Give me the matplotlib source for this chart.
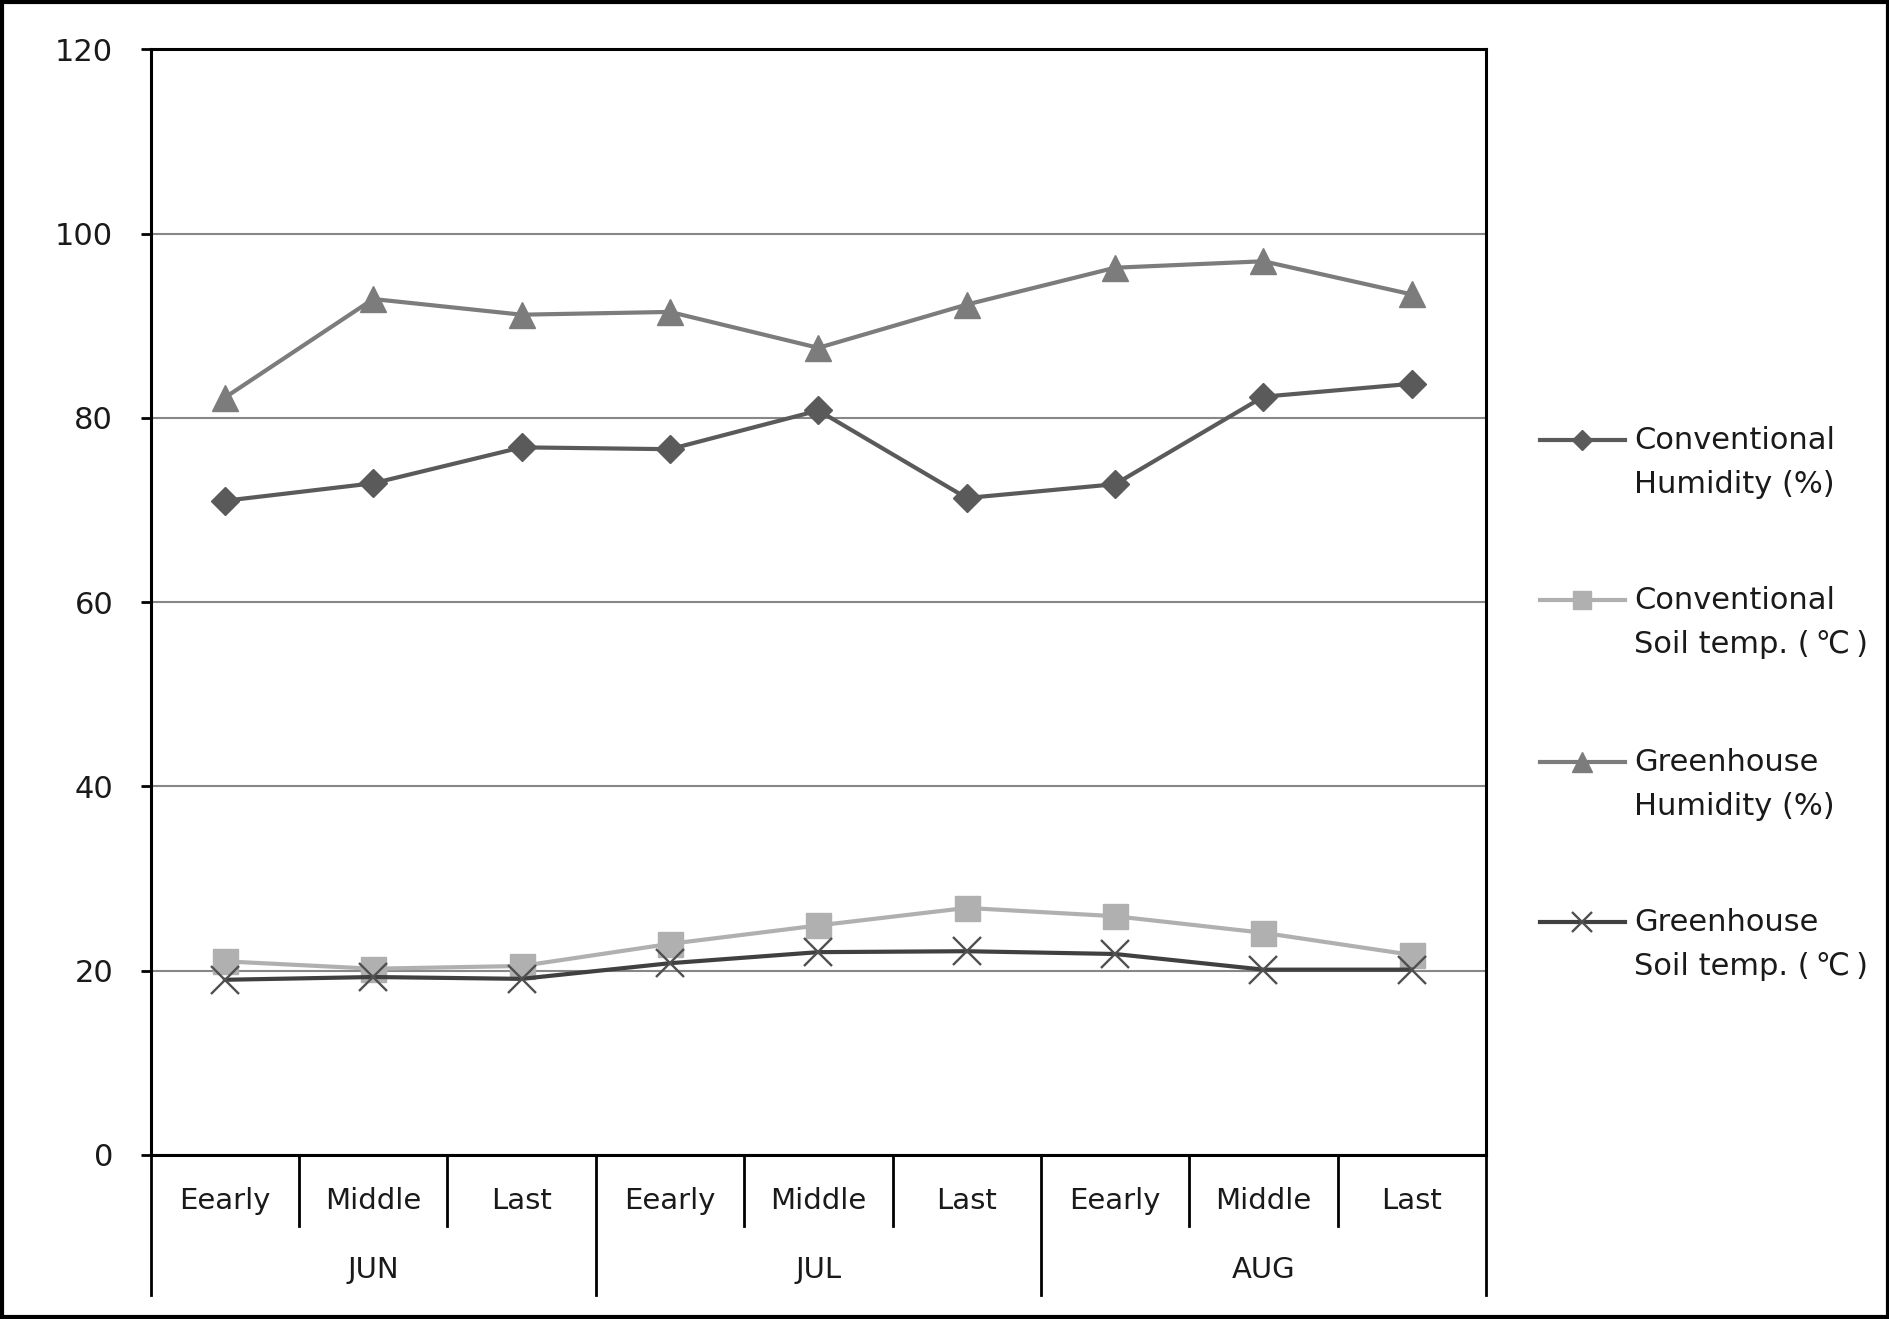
import matplotlib.pyplot as plt
from matplotlib.lines import Line2D
from matplotlib.patches import Rectangle

periods = ["Eearly", "Middle", "Last"] * 3
months = ["JUN", "JUL", "AUG"]

conv_hum = [71.0, 72.9, 76.8, 76.6, 80.8, 71.3, 72.8, 82.3, 83.7]
conv_soil = [21.0, 20.2, 20.5, 22.9, 24.9, 26.8, 25.9, 24.1, 21.7]
gh_hum = [82.2, 92.9, 91.2, 91.5, 87.6, 92.3, 96.3, 97.0, 93.4]
gh_soil = [19.0, 19.3, 19.1, 20.8, 22.0, 22.1, 21.8, 20.1, 20.1]

labels = ["Conventional\nHumidity (%)", "Conventional\nSoil temp. (\u2009\u2103\u2009)",
          "Greenhouse\nHumidity (%)", "Greenhouse\nSoil temp. (\u2009\u2103\u2009)"]
styles = [
    dict(color="#5a5a5a", marker="D", mec="#5a5a5a", mfc="#5a5a5a"),
    dict(color="#b0b0b0", marker="s", mec="#b0b0b0", mfc="#b0b0b0"),
    dict(color="#7c7c7c", marker="^", mec="#7c7c7c", mfc="#7c7c7c"),
    dict(color="#404040", marker="x", mec="#505050", mew=1.7),
]
sizes = [14, 18, 19, 20]
leg_sizes = [10, 13, 14, 14]

W, H = 1890, 1319
fig = plt.figure(figsize=(W / 100, H / 100), dpi=100)
ax = fig.add_axes([150.7 / W, 1 - 1154.8 / H, (1486 - 150.7) / W, (1154.8 - 49.4) / H])

x = list(range(len(periods)))
for vals, st, ms in zip([conv_hum, conv_soil, gh_hum, gh_soil], styles, sizes):
    ax.plot(x, vals, lw=3, ms=ms, zorder=3, **st)

ax.set_xlim(-0.5, 8.5)
ax.set_ylim(0, 120)
ax.set_yticks(range(0, 121, 20))
ax.yaxis.grid(True, color="#878787", lw=1.5)
ax.set_axisbelow(True)
ax.set_xticks([])
ax.tick_params(axis="y", length=7, width=2, pad=20, labelsize=22, labelcolor="#1a1a1a")
for s in ax.spines.values():
    s.set_linewidth(2.2)
    s.set_color("black")

# category axis labels and dividers
tr = ax.get_xaxis_transform()
for i, p in enumerate(periods):
    ax.text(i, -0.042, p, transform=tr, ha="center", va="center", fontsize=21, color="#1a1a1a")
for k, m in enumerate(months):
    ax.text(3 * k + 1, -0.104, m, transform=tr, ha="center", va="center", fontsize=21, color="#1a1a1a")
for b in [i - 0.5 for i in range(10)]:
    bottom = -0.1268 if b in (-0.5, 2.5, 5.5, 8.5) else -0.0641
    ax.plot([b, b], [0, bottom], transform=tr, color="black", lw=2, clip_on=False)

# legend
leg_y = [440, 600, 762, 922]
for ly, lab, st, ms in zip(leg_y, labels, styles, leg_sizes):
    yf = 1 - ly / H
    fig.add_artist(Line2D([1540 / W, 1582 / W, 1625 / W], [yf, yf, yf], transform=fig.transFigure,
                          lw=3, ms=ms, markevery=[1], **st))
    fig.text(1634 / W, 1 - (ly + 12) / H, lab, ha="left", va="center_baseline", fontsize=22,
             color="#1a1a1a", linespacing=1.65)

fig.add_artist(Rectangle((0.001, 0.0015), 0.998, 0.997, transform=fig.transFigure,
                         fill=False, ec="black", lw=3))

fig.savefig("out.png", dpi=100)
